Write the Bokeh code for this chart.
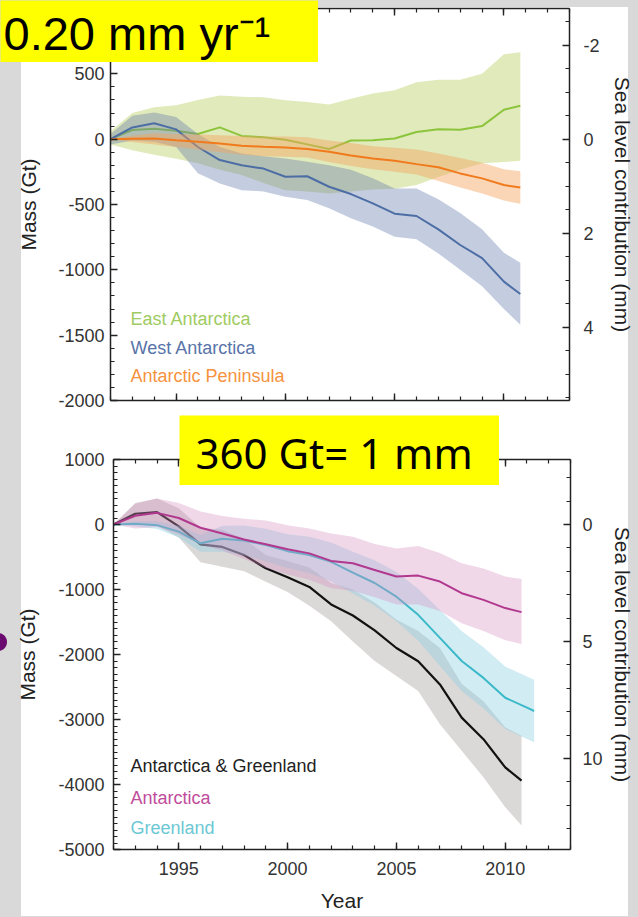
from bokeh.plotting import figure
from bokeh.models import (Range1d, LinearAxis, SingleIntervalTicker, Label,
                          NumeralTickFormatter)
from bokeh.layouts import column
from bokeh.embed import file_html
from bokeh.resources import INLINE

# ---------------- data (Gt) ----------------
years_ant = [1992, 1993, 1994, 1995, 1996, 1997, 1998, 1999, 2000, 2001,
             2002, 2003, 2004, 2005, 2006, 2007, 2008, 2009, 2010, 2010.75]

east_mass = [0, 70, 80, 65, 40, 90, 25, 15, -5, -40,
             -75, -10, -8, 5, 55, 75, 72, 100, 225, 255]
east_upper = [60, 200, 245, 260, 300, 335, 325, 320, 298, 285,
              265, 310, 349, 374, 435, 455, 455, 500, 650, 665]
east_lower = [-40, -85, -120, -150, -185, -235, -275, -335, -390, -400,
              -415, -400, -385, -380, -350, -290, -235, -185, -175, -165]

west_mass = [0, 90, 122, 75, -60, -160, -200, -225, -288, -284,
             -364, -420, -491, -570, -588, -690, -810, -910, -1090, -1185]
west_upper = [40, 180, 205, 170, 40, -60, -110, -130, -148, -173,
              -200, -235, -300, -377, -377, -460, -565, -690, -870, -945]
west_lower = [-40, -10, -20, -60, -260, -340, -390, -400, -440, -466,
              -529, -606, -669, -746, -765, -875, -1000, -1125, -1300, -1420]

pen_mass = [0, 3, 5, -8, -20, -33, -50, -58, -63, -75,
            -97, -125, -148, -165, -191, -215, -262, -300, -351, -370]
pen_upper = [0, 28, 45, 40, 35, 30, 25, 20, 20, 15,
             -10, -30, -55, -65, -80, -110, -145, -180, -230, -245]
pen_lower = [0, -22, -40, -60, -80, -100, -120, -130, -135, -140,
             -175, -205, -230, -250, -270, -320, -370, -415, -470, -495]

ag_mass = [0, 165, 190, -30, -306, -345, -470, -674, -810, -960,
           -1230, -1400, -1630, -1900, -2103, -2460, -2971, -3303, -3737, -3940]
ag_upper = [0, 330, 400, 250, -50, -80, -220, -470, -560, -660,
            -900, -1000, -1200, -1460, -1640, -1900, -2450, -2720, -3120, -3250]
ag_lower = [0, 30, -20, -200, -580, -650, -720, -880, -1040, -1250,
            -1490, -1800, -2100, -2332, -2562, -3073, -3481, -3890, -4349, -4630]

ant_mass = [0, 133, 179, 100, -50, -138, -230, -305, -380, -444,
            -560, -597, -699, -801, -786, -878, -1057, -1159, -1286, -1348]
ant_upper = [0, 320, 400, 330, 200, 130, 90, 60, -10, -60,
             -140, -190, -300, -370, -330, -440, -595, -675, -800, -840]
ant_lower = [0, -60, -40, -150, -310, -400, -530, -670, -770, -850,
             -980, -1020, -1120, -1230, -1230, -1330, -1520, -1640, -1780, -1840]

years_gre = [1992, 1993, 1994, 1995, 1996, 1997, 1998, 1999, 2000, 2001,
             2002, 2003, 2004, 2005, 2006, 2007, 2008, 2009, 2010, 2011, 2011.33]
gre_mass = [0, 10, -10, -110, -290, -220, -245, -315, -410, -470,
            -575, -740, -900, -1110, -1390, -1745, -2100, -2360, -2665, -2818, -2869]
gre_upper = [0, 50, 50, -20, -160, -20, -15, -65, -150, -190,
             -275, -420, -550, -730, -990, -1315, -1640, -1890, -2185, -2340, -2390]
gre_lower = [0, -30, -70, -200, -420, -420, -475, -565, -670, -750,
             -875, -1060, -1250, -1490, -1790, -2175, -2560, -2830, -3145, -3300, -3350]

top_labels = ["East Antarctica", "West Antarctica", "Antarctic Peninsula"]
bottom_labels = ["Antarctica & Greenland", "Antarctica", "Greenland"]
rate_text = "0.20 mm yr\u207b\u00b9"
conv_text = "360 Gt= 1 mm"
GT_PER_MM = 360

# ---------------- layout constants ----------------
W = 638
TOP_H, BOT_H = 415, 502
X0, X1 = 1992, 2013
GRAY = "#d9d9d9"
FONT = "Liberation Sans"
YELLOW = "#ffff00"


def side_bg(extra):
    return ", ".join(extra + [
        "linear-gradient(to right, %s 0px, %s 21px, #ffffff 21px, #ffffff 628px, %s 628px)"
        % (GRAY, GRAY, GRAY)])


def style_axis(ax, labels=True):
    ax.axis_line_color = "#222222"
    ax.axis_line_width = 1.5
    ax.major_tick_line_color = "#222222"
    ax.minor_tick_line_color = "#222222"
    ax.major_tick_line_width = 1.4
    ax.minor_tick_line_width = 1.2
    ax.major_tick_in = 7
    ax.major_tick_out = 0
    ax.minor_tick_in = 4
    ax.minor_tick_out = 0
    ax.major_label_text_font = FONT
    ax.axis_label_text_font = FONT
    ax.axis_label_text_font_size = "21px"
    ax.axis_label_text_font_style = "normal"
    ax.axis_label_text_color = "#222222"
    if labels:
        ax.major_label_text_font_size = "18px"
        ax.major_label_text_color = "#333333"
    else:
        ax.major_label_text_font_size = "0px"
        ax.major_label_text_color = None
        ax.major_label_standoff = 0


def make_panel(height, ymin, ymax, mb, tick_gt, minor_gt, tick_mm, minor_mm, bg, xlabels):
    p = figure(width=W, height=height, x_range=Range1d(X0, X1),
               y_range=Range1d(ymin, ymax),
               min_border_left=mb[0], min_border_right=mb[1],
               min_border_top=mb[2], min_border_bottom=mb[3],
               output_backend="svg", toolbar_location=None, frame_align=False,
               border_fill_color=None, background_fill_color=None,
               outline_line_color=None, styles={"background": bg})
    p.grid.visible = False
    bottom_ax = p.below[0]
    bottom_ax.ticker = SingleIntervalTicker(interval=5, num_minor_ticks=5)
    style_axis(bottom_ax, labels=xlabels)
    left_ax = p.left[0]
    left_ax.ticker = SingleIntervalTicker(interval=tick_gt, num_minor_ticks=minor_gt)
    left_ax.formatter = NumeralTickFormatter(format="0")
    left_ax.axis_label = "Mass (Gt)"
    style_axis(left_ax)
    top_ax = LinearAxis(ticker=SingleIntervalTicker(interval=5, num_minor_ticks=5))
    style_axis(top_ax, labels=False)
    p.add_layout(top_ax, "above")
    p.extra_y_ranges = {"sl": Range1d(-ymin / GT_PER_MM, -ymax / GT_PER_MM)}
    r_ax = LinearAxis(y_range_name="sl",
                      ticker=SingleIntervalTicker(interval=tick_mm, num_minor_ticks=minor_mm),
                      formatter=NumeralTickFormatter(format="0"),
                      axis_label="Sea level contribution (mm)")
    style_axis(r_ax)
    p.add_layout(r_ax, "right")
    return p, bottom_ax, left_ax, r_ax


def yellow_box(w, h, text, font, size_px, tx, ty, styles):
    f = figure(width=w, height=h, x_range=Range1d(0, w), y_range=Range1d(0, h),
               x_axis_location=None, y_axis_location=None,
               min_border_left=0, min_border_right=0, min_border_top=0, min_border_bottom=0,
               output_backend="svg", toolbar_location=None, frame_align=False,
               background_fill_color=YELLOW, border_fill_color=YELLOW,
               outline_line_color=None, styles=styles)
    f.grid.visible = False
    f.add_layout(Label(x=tx, y=ty, text=text, text_font=font,
                       text_font_size="%dpx" % size_px, text_color="#000000",
                       text_align="left", text_baseline="alphabetic"))
    return f


# ---------------- top panel ----------------
top_bg = side_bg(["linear-gradient(%s, %s) 0 0 / 100%% 7px no-repeat" % (GRAY, GRAY)])
p1, b1, l1, r1 = make_panel(TOP_H, -2000, 1000, (110, 69, 8, 15), 500, 5, 2, 4, top_bg, False)
l1.major_label_standoff = 6
l1.axis_label_standoff = 15
r1.major_label_standoff = 14
r1.axis_label_standoff = 8

p1.varea(x=years_ant, y1=east_lower, y2=east_upper, fill_color="#b5cc5a", fill_alpha=0.42)
p1.line(years_ant, east_mass, line_color="#8cc43c", line_width=2)
p1.varea(x=years_ant, y1=west_lower, y2=west_upper, fill_color="#6b7fae", fill_alpha=0.4)
p1.line(years_ant, west_mass, line_color="#4d6ea5", line_width=2)
p1.varea(x=years_ant, y1=pen_lower, y2=pen_upper, fill_color="#f4a460", fill_alpha=0.45)
p1.line(years_ant, pen_mass, line_color="#f07a1c", line_width=2)


def top_xy(px, py):
    fx0, fx1, fy0, fy1 = 110, 569, 8, 400
    return (X0 + (px - fx0) * (X1 - X0) / (fx1 - fx0),
            1000 - (py - fy0) * 3000 / (fy1 - fy0))


for txt, col, py in zip(top_labels, ["#9fcb62", "#5874a8", "#f5933f"], [318, 347, 375]):
    lx, ly = top_xy(130, py)
    p1.add_layout(Label(x=lx, y=ly, text=txt, text_color=col, text_font=FONT,
                        text_font_size="18px", text_baseline="middle", text_align="left"))

# ---------------- bottom panel ----------------
bot_bg = side_bg([
    "radial-gradient(circle at -2px 227px, #6a0a70 0px, #6a0a70 8.5px, rgba(0,0,0,0) 9.5px)",
    "linear-gradient(%s, %s) 0 100%% / 100%% 1px no-repeat" % (GRAY, GRAY)])
p2, b2, l2, r2 = make_panel(BOT_H, -5000, 1000, (113, 68, 44, 68), 1000, 10, 5, 5, bot_bg, True)
b2.axis_label = "Year"
b2.major_label_standoff = 12
b2.axis_label_standoff = 11
l2.major_label_standoff = 9
l2.axis_label_standoff = 16
r2.major_label_standoff = 12
r2.axis_label_standoff = 5

p2.varea(x=years_ant, y1=ag_lower, y2=ag_upper, fill_color="#a9a3a3", fill_alpha=0.42)
p2.line(years_ant, ag_mass, line_color="#111111", line_width=2.2)
p2.varea(x=years_gre, y1=gre_lower, y2=gre_upper, fill_color="#8fd0e3", fill_alpha=0.4)
p2.line(years_gre, gre_mass, line_color="#3cb9c9", line_width=2)
p2.varea(x=years_ant, y1=ant_lower, y2=ant_upper, fill_color="#d58fc0", fill_alpha=0.35)
p2.line(years_ant, ant_mass, line_color="#b2388f", line_width=2)


def bot_xy(px, py):
    fx0, fx1, fy0, fy1 = 113, 570, 44, 434
    return (X0 + (px - fx0) * (X1 - X0) / (fx1 - fx0),
            1000 - (py - fy0) * 6000 / (fy1 - fy0))


for txt, col, py in zip(bottom_labels, ["#222222", "#c04c9c", "#6cc8d4"], [350, 382, 412]):
    lx, ly = bot_xy(130, py)
    p2.add_layout(Label(x=lx, y=ly, text=txt, text_color=col, text_font=FONT,
                        text_font_size="18px", text_baseline="middle", text_align="left"))

# ---------------- yellow call-outs (overlapping the panels) ----------------
# label y is in the box's own pixel units (from its bottom edge)
rate_box = yellow_box(318, 62, rate_text, "Liberation Sans", 47, 3, 62 - 43 + 10,
                      {"margin-bottom": "-62px", "z-index": "5", "position": "relative"})
conv_box = yellow_box(320, 70, conv_text, "Noto Sans", 42, 16, 70 - 52 + 15,
                      {"margin-left": "179px", "margin-bottom": "-70px",
                       "z-index": "5", "position": "relative"})

layout = column(rate_box, p1, conv_box, p2, spacing=0)
open("out.html", "w").write(file_html(layout, INLINE))
